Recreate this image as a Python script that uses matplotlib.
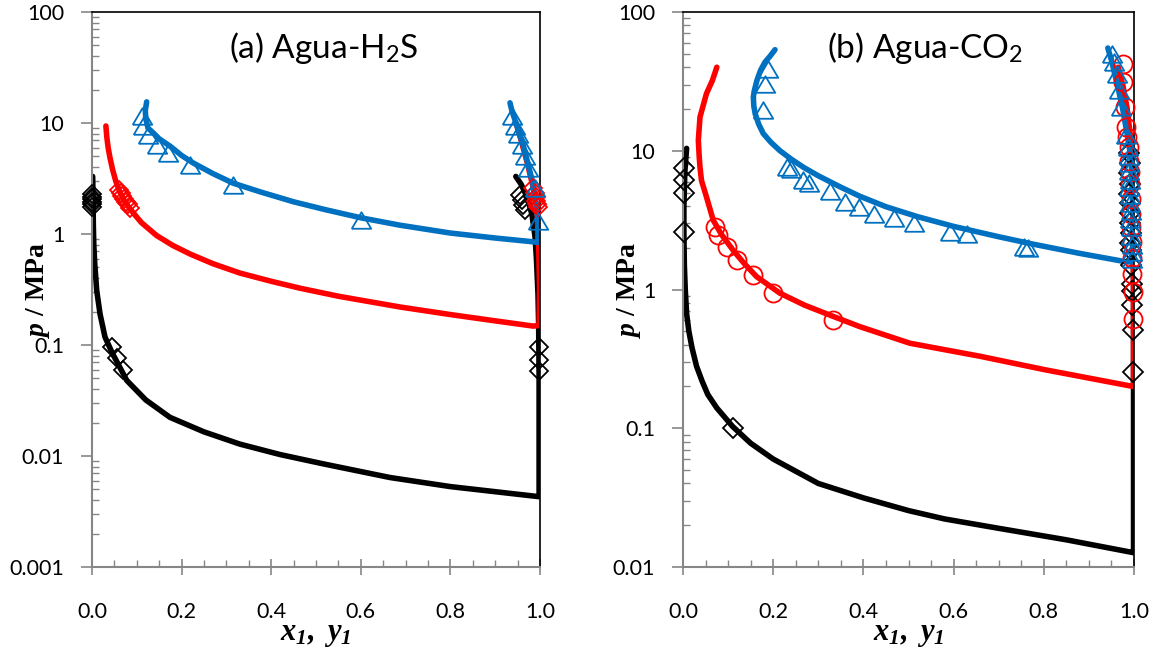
import matplotlib
matplotlib.use("Agg")
import matplotlib.pyplot as plt
from matplotlib.ticker import FixedLocator, LogLocator, MultipleLocator, NullFormatter, FixedFormatter

# ---------------- data: panel (a) Agua-H2S ----------------
a_black_line_x = [0.0015, 0.002, 0.0025, 0.003, 0.004, 0.006, 0.0105, 0.018, 0.029, 0.045, 0.0775, 0.12,
                  0.174, 0.25, 0.33, 0.42, 0.516, 0.665, 0.8, 0.998,
                  0.998, 0.997, 0.9955, 0.992, 0.989, 0.982, 0.971, 0.958, 0.946]
a_black_line_p = [3.3, 2.5, 1.8, 1.2, 0.8, 0.55, 0.31, 0.19, 0.118, 0.085, 0.048, 0.032,
                  0.0223, 0.0165, 0.0128, 0.0103, 0.0085, 0.0064, 0.0053, 0.0043,
                  0.05, 0.15, 0.29, 0.6, 0.94, 1.5, 2.16, 2.8, 3.3]
a_black_exp_x = [0.001, 0.001, 0.001, 0.001, 0.001, 0.001, 0.045, 0.056, 0.069,
                 0.998, 0.998, 0.998, 0.955, 0.959, 0.962, 0.967]
a_black_exp_p = [1.75, 1.85, 1.95, 2.05, 2.15, 2.3, 0.095, 0.076, 0.059,
                 0.095, 0.073, 0.058, 2.25, 2.03, 1.83, 1.65]

a_red_line_x = [0.031, 0.033, 0.036, 0.04, 0.046, 0.053, 0.062, 0.072, 0.083, 0.095, 0.11, 0.144, 0.18,
                0.219, 0.27, 0.33, 0.4, 0.464, 0.55, 0.6875, 0.8, 0.9, 0.985,
                0.998, 0.999, 0.997, 0.993, 0.985, 0.972, 0.96, 0.949]
a_red_line_p = [9.4, 7.5, 6.0, 4.9, 3.8, 3.0, 2.4, 2.0, 1.72, 1.5, 1.27, 0.97, 0.79,
                0.66, 0.54, 0.445, 0.375, 0.325, 0.275, 0.22, 0.188, 0.165, 0.148,
                0.15, 0.33, 0.8, 1.75, 2.6, 4.3, 6.5, 9.3]
a_red_exp_x = [0.06, 0.064, 0.068, 0.072, 0.076, 0.08, 0.085,
               0.985, 0.988, 0.99, 0.992, 0.994, 0.996]
a_red_exp_p = [2.5, 2.35, 2.2, 2.05, 1.95, 1.85, 1.72,
               2.6, 2.35, 2.15, 2.0, 1.85, 1.75]

a_blue_line_x = [0.122, 0.119, 0.12, 0.125, 0.136, 0.15, 0.174, 0.2, 0.226, 0.27, 0.315, 0.375, 0.45,
                 0.52, 0.6, 0.6875, 0.8, 0.9, 0.985, 0.9955,
                 0.996, 0.99, 0.984, 0.975, 0.963, 0.95, 0.937, 0.933]
a_blue_line_p = [15.5, 13.0, 11.0, 9.0, 8.2, 7.2, 6.2, 5.1, 4.36, 3.5, 2.87, 2.4, 1.95,
                 1.66, 1.4, 1.2, 1.02, 0.92, 0.85, 0.84,
                 1.3, 2.0, 2.9, 4.0, 6.2, 9.0, 13.0, 15.2]
a_blue_exp_x = [0.111, 0.1145, 0.125, 0.144, 0.170, 0.219, 0.315, 0.6,
                0.937, 0.944, 0.951, 0.959, 0.967, 0.973, 0.989, 0.9955]
a_blue_exp_p = [11.5, 9.3, 7.86, 6.4, 5.35, 4.2, 2.77, 1.34,
                11.5, 9.3, 7.9, 6.4, 5.0, 3.95, 2.6, 1.32]

# ---------------- data: panel (b) Agua-CO2 ----------------
b_black_line_x = [0.008, 0.004, 0.002, 0.002, 0.003, 0.005, 0.008, 0.013, 0.02, 0.03, 0.042, 0.055, 0.075,
                  0.11, 0.15, 0.2, 0.3, 0.4, 0.5, 0.58, 0.7, 0.85, 0.998,
                  0.999, 0.999, 0.998, 0.996, 0.993]
b_black_line_p = [10.4, 7.0, 4.0, 2.55, 1.5, 1.0, 0.67, 0.5, 0.38, 0.28, 0.22, 0.175, 0.14,
                  0.103, 0.078, 0.06, 0.04, 0.0315, 0.0255, 0.0222, 0.019, 0.0157, 0.0127,
                  0.0127, 1.0, 5.0, 9.0, 10.5]
b_black_exp_x = [0.003, 0.003, 0.003, 0.003, 0.1115,
                 0.99, 0.991, 0.99, 0.991, 0.99, 0.991, 0.992, 0.991, 0.993, 0.992, 0.993,
                 0.994, 0.995, 0.995, 0.996, 0.997, 0.997]
b_black_exp_p = [7.5, 6.2, 5.0, 2.6, 0.1,
                 9.6, 8.1, 6.9, 5.8, 4.9, 4.2, 3.55, 3.0, 2.55, 2.15, 1.92,
                 1.5, 1.1, 0.97, 0.77, 0.51, 0.256]

b_red_line_x = [0.075, 0.065, 0.052, 0.0377, 0.034, 0.036, 0.0377, 0.041, 0.052, 0.067, 0.085, 0.111,
                0.135, 0.163, 0.215, 0.27, 0.333, 0.392, 0.503, 0.659, 0.8, 0.998,
                0.999, 0.999, 0.998, 0.996, 0.993, 0.985, 0.975, 0.965]
b_red_line_p = [40, 32, 25.8, 17.5, 11.9, 9.0, 7.6, 6.1, 4.65, 3.16, 2.5, 1.92,
                1.55, 1.24, 0.94, 0.77, 0.64, 0.54, 0.41, 0.33, 0.265, 0.2,
                0.2, 1.0, 3.0, 7.0, 12.0, 20.0, 30.0, 40.0]
b_red_exp_x = [0.071, 0.078, 0.097, 0.119, 0.156, 0.2, 0.333,
               0.976, 0.976, 0.98, 0.982, 0.984, 0.988, 0.99, 0.991, 0.992, 0.993, 0.993,
               0.994, 0.995, 0.996, 0.996, 0.998, 0.998]
b_red_exp_p = [2.83, 2.47, 2.03, 1.63, 1.27, 0.94, 0.60,
               42.4, 31.3, 20.7, 14.8, 12.6, 10.6, 8.5, 7.0, 5.8, 4.5, 3.5,
               2.8, 2.2, 1.7, 1.3, 0.96, 0.61]

b_blue_line_x = [0.204, 0.193, 0.182, 0.172, 0.164, 0.158, 0.156, 0.157, 0.16, 0.168, 0.178, 0.195,
                 0.215, 0.24, 0.267, 0.3, 0.348, 0.392, 0.45, 0.52, 0.6, 0.7, 0.777, 0.88, 0.984, 0.998,
                 0.998, 0.996, 0.993, 0.985, 0.975, 0.965, 0.957, 0.95, 0.942]
b_blue_line_p = [53.5, 48, 43.6, 38, 32.2, 27, 24.4, 21, 18.5, 15.5, 13.3, 11.5,
                 10.0, 8.7, 7.6, 6.6, 5.5, 4.7, 3.95, 3.35, 2.85, 2.4, 2.12, 1.82, 1.58, 1.58,
                 3.0, 6.0, 9.0, 13.0, 20.0, 28.0, 36.0, 45.0, 55.0]
b_blue_exp_x = [0.189, 0.182, 0.178, 0.23, 0.24, 0.265, 0.28, 0.325, 0.36, 0.39, 0.423, 0.467,
                0.512, 0.592, 0.629, 0.755, 0.766,
                0.951, 0.955, 0.962, 0.966, 0.972, 0.983, 0.986, 0.988, 0.99, 0.989, 0.991,
                0.99, 0.992, 0.991, 0.993, 0.992, 0.994, 0.993, 0.995, 0.995, 0.996]
b_blue_exp_p = [39, 30.4, 19.6, 7.6, 7.4, 6.2, 5.9, 5.1, 4.3, 3.95, 3.5, 3.25,
                3.0, 2.6, 2.5, 2.03, 1.98,
                50, 43.6, 36, 27.3, 20.7, 13.0, 10.6, 9.2, 8.1, 7.1, 6.2,
                5.5, 4.8, 4.2, 3.7, 3.2, 2.8, 2.45, 2.1, 1.85, 1.65]

x_ticks = [0.0, 0.2, 0.4, 0.6, 0.8, 1.0]
x_tick_labels = ["0.0", "0.2", "0.4", "0.6", "0.8", "1.0"]
a_y_ticks = [0.001, 0.01, 0.1, 1, 10, 100]
a_y_tick_labels = ["0.001", "0.01", "0.1", "1", "10", "100"]
b_y_ticks = [0.01, 0.1, 1, 10, 100]
b_y_tick_labels = ["0.01", "0.1", "1", "10", "100"]

title_a = r"(a) Agua-H$_\mathsf{2}$S"
title_b = r"(b) Agua-CO$_\mathsf{2}$"
x_label = r"$x_1,\ y_1$"
y_label = r"$p$ / MPa"

# ---------------- style ----------------
plt.rcParams["mathtext.fontset"] = "custom"
plt.rcParams["mathtext.rm"] = "Liberation Serif:italic:bold"
plt.rcParams["mathtext.it"] = "Liberation Serif:italic:bold"
plt.rcParams["mathtext.bf"] = "Liberation Serif:bold"
plt.rcParams["mathtext.sf"] = "Lato"

BLACK = "#000000"
RED = "#FF0000"
BLUE = "#0070C0"
GRAY = "#868686"

tri = [(-1, -0.85), (1, -0.85), (0, 0.85), (-1, -0.85)]

fig = plt.figure(figsize=(11.56, 6.62), dpi=100)
W, H = 1156.0, 662.0
axA = fig.add_axes([92 / W, 1 - 567 / H, 448 / W, 555 / H])
axB = fig.add_axes([683 / W, 1 - 567 / H, 451 / W, 555 / H])


def style_axes(ax, yticks, ylabels, ymin):
    ax.set_yscale("log")
    ax.set_xlim(0, 1)
    ax.set_ylim(ymin, 100)
    for s in ("left", "bottom"):
        ax.spines[s].set_color(GRAY)
        ax.spines[s].set_linewidth(1.5)
    for s in ("top", "right"):
        ax.spines[s].set_color("black")
        ax.spines[s].set_linewidth(1.2)
    ax.xaxis.set_major_locator(FixedLocator(x_ticks))
    ax.xaxis.set_major_formatter(FixedFormatter(x_tick_labels))
    ax.xaxis.set_minor_locator(MultipleLocator(0.05))
    ax.yaxis.set_major_locator(FixedLocator(yticks))
    ax.yaxis.set_major_formatter(FixedFormatter(ylabels))
    ax.yaxis.set_minor_locator(LogLocator(base=10, subs=[2, 3, 4, 5, 6, 7, 8, 9], numticks=20))
    ax.yaxis.set_minor_formatter(NullFormatter())
    ax.tick_params(axis="x", which="major", direction="inout", length=12, width=1.2,
                   color=GRAY, pad=19, labelsize=15.5)
    ax.tick_params(axis="x", which="minor", direction="in", length=5, width=1.0, color=GRAY)
    ax.tick_params(axis="y", which="major", direction="out", length=8, width=1.2,
                   color=GRAY, pad=12, labelsize=15.5)
    ax.tick_params(axis="y", which="minor", direction="in", length=5, width=1.0, color=GRAY)
    for lab in ax.get_xticklabels() + ax.get_yticklabels():
        lab.set_fontfamily("Lato")
    ax.set_xlabel(x_label, fontsize=22)
    ax.set_ylabel(y_label, fontsize=20, fontfamily="Liberation Serif", fontweight="bold")
    ax.xaxis.set_label_coords(0.5, -0.1225)
    ax.xaxis.label.set_va("center")
    ax.yaxis.set_label_coords(-0.12, 0.5)
    ax.yaxis.label.set_va("center")


def series(ax, lx, lp, ex, ep, color, marker, ms):
    ax.plot(lx, lp, color=color, lw=4.0, solid_joinstyle="round", solid_capstyle="round", zorder=2)
    ax.plot(ex, ep, linestyle="none", marker=marker, markersize=ms, markerfacecolor="none",
            markeredgecolor=color, markeredgewidth=1.3, clip_on=False, zorder=3)


style_axes(axA, a_y_ticks, a_y_tick_labels, 0.001)
style_axes(axB, b_y_ticks, b_y_tick_labels, 0.01)

series(axA, a_black_line_x, a_black_line_p, a_black_exp_x, a_black_exp_p, BLACK, "D", 9.5)
series(axA, a_red_line_x, a_red_line_p, a_red_exp_x, a_red_exp_p, RED, "D", 9)
series(axA, a_blue_line_x, a_blue_line_p, a_blue_exp_x, a_blue_exp_p, BLUE, tri, 14)

series(axB, b_black_line_x, b_black_line_p, b_black_exp_x, b_black_exp_p, BLACK, "D", 10)
series(axB, b_red_line_x, b_red_line_p, b_red_exp_x, b_red_exp_p, RED, "o", 13)
series(axB, b_blue_line_x, b_blue_line_p, b_blue_exp_x, b_blue_exp_p, BLUE, tri, 14)

axA.text(0.518, 0.935, title_a, transform=axA.transAxes, ha="center", va="center",
         fontsize=24, fontfamily="Lato")
axB.text(0.537, 0.935, title_b, transform=axB.transAxes, ha="center", va="center",
         fontsize=24, fontfamily="Lato")

fig.savefig("out.png", dpi=100)
